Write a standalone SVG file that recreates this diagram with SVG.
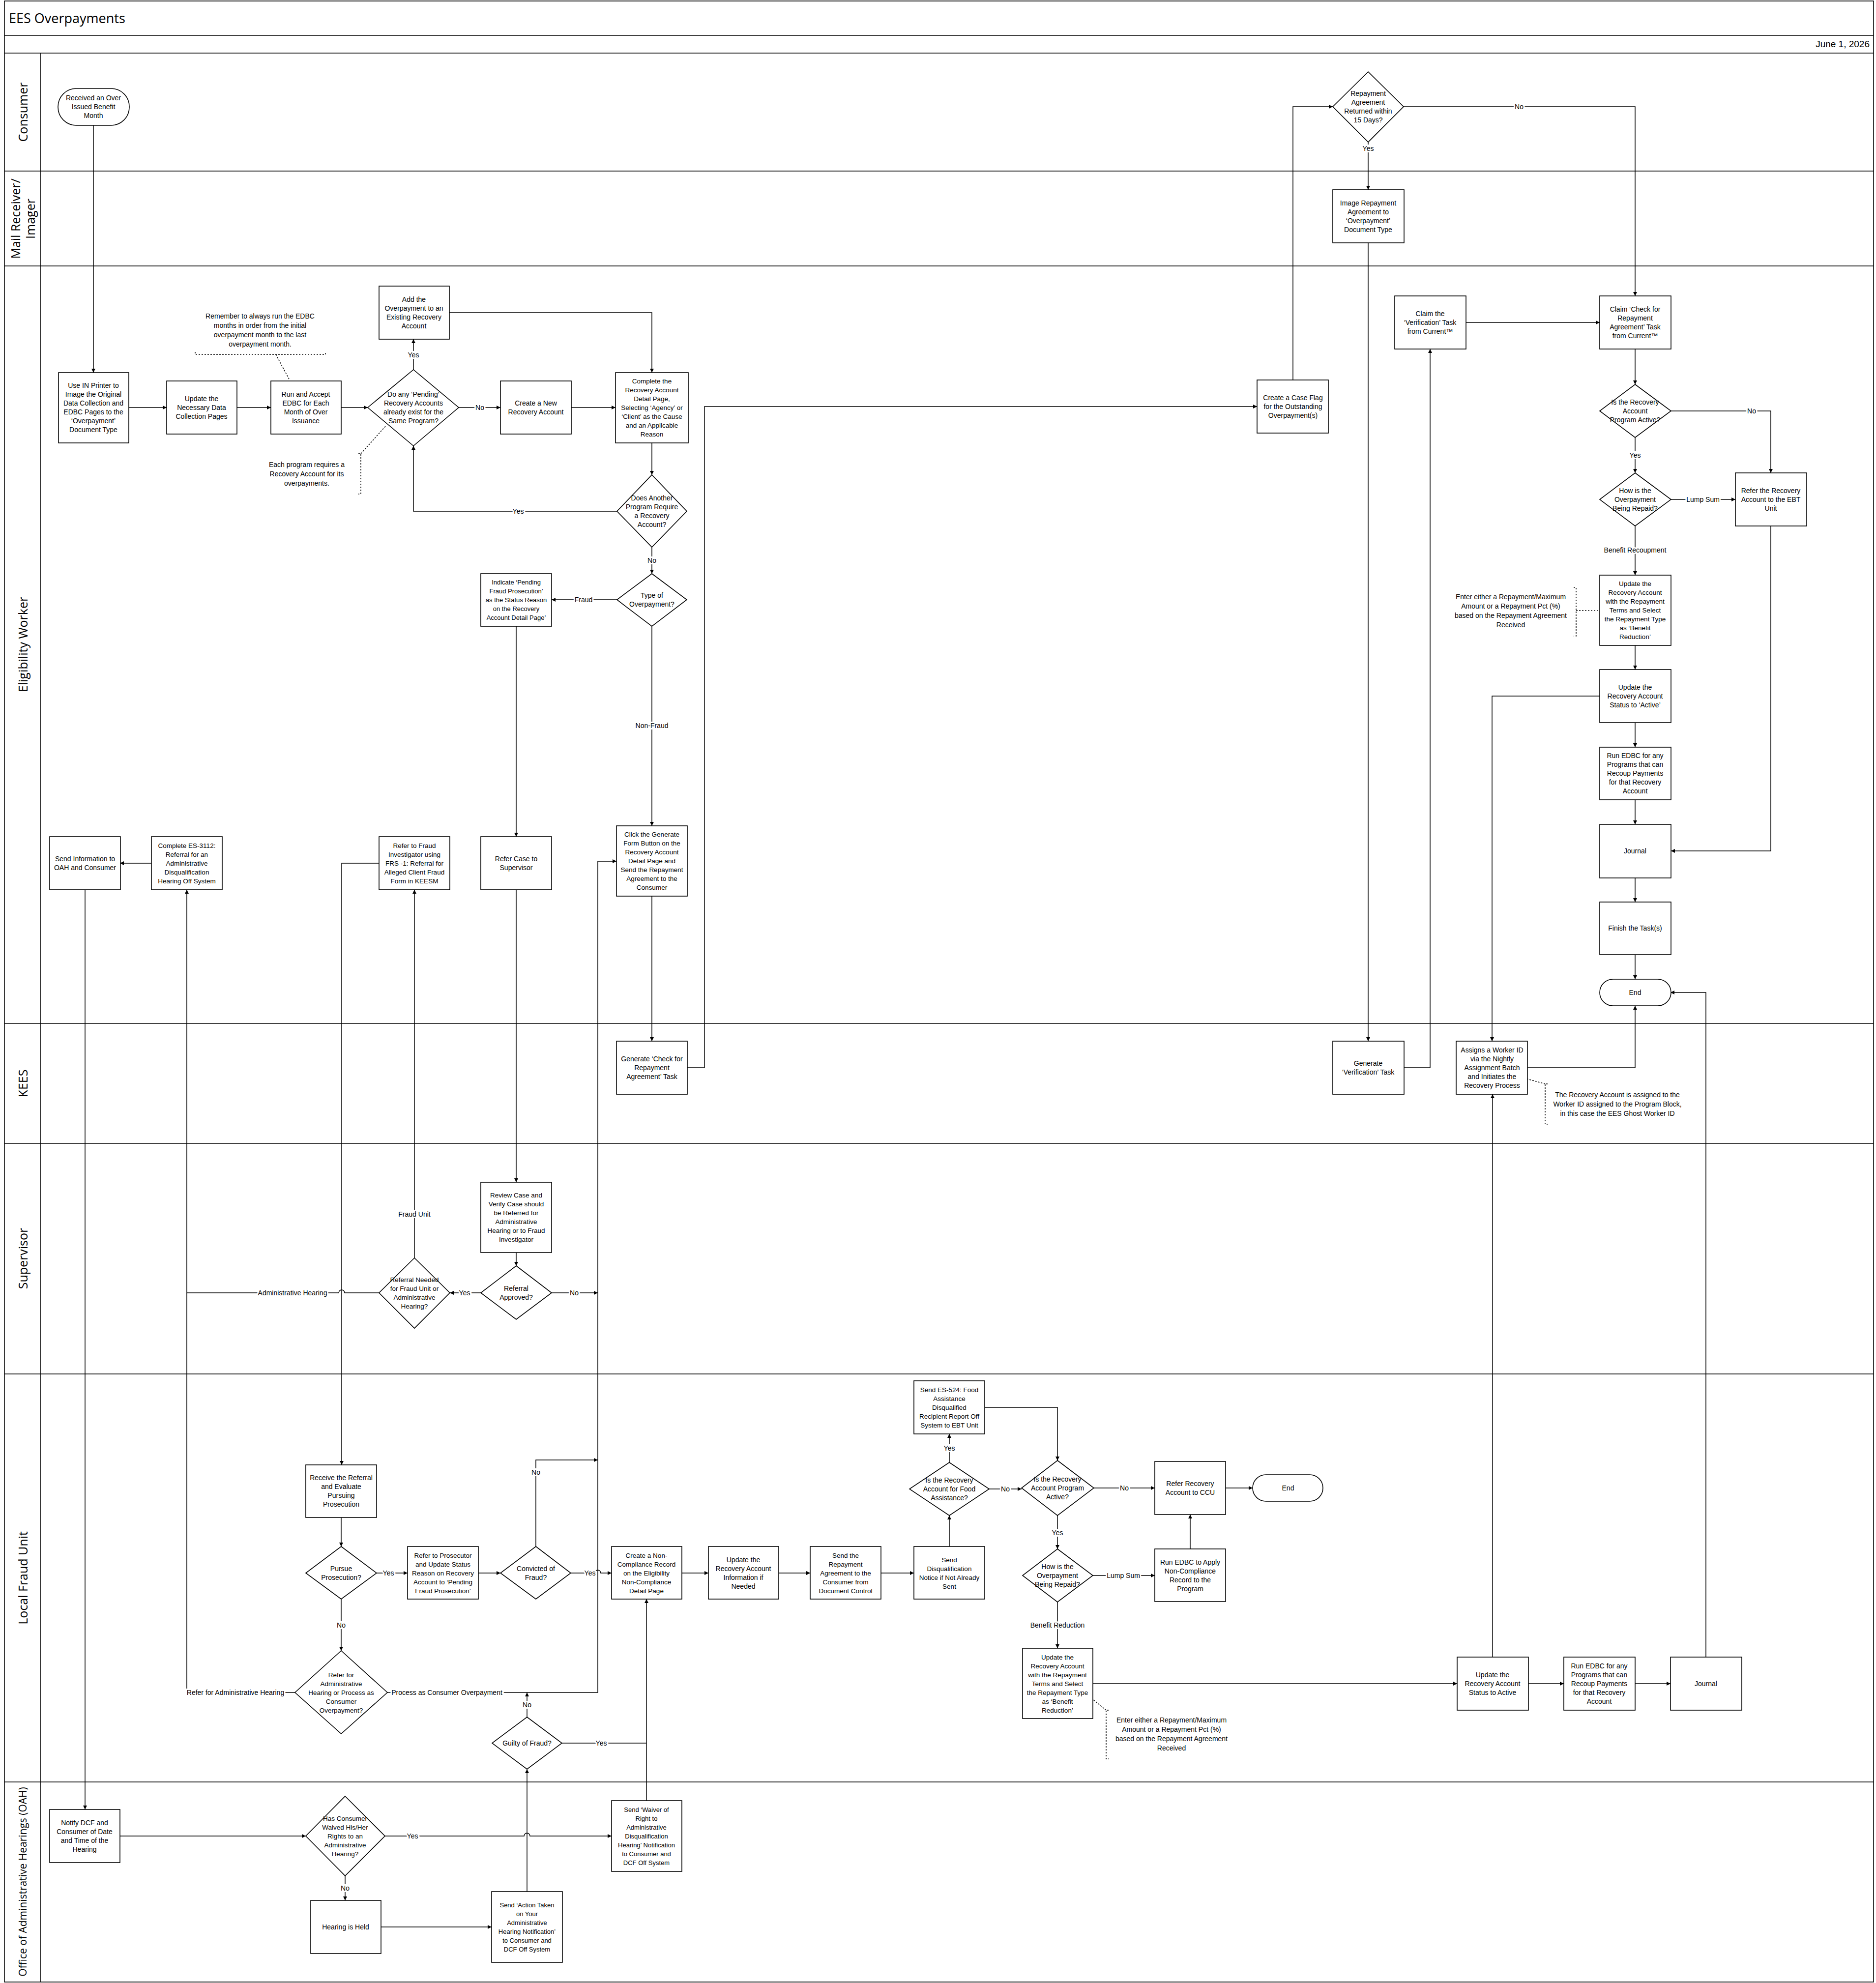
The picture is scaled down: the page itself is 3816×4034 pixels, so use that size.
<svg xmlns="http://www.w3.org/2000/svg" width="3816" height="4034" viewBox="0 0 3816 4034">
<style>
.b{fill:#fff;stroke:#000;stroke-width:1.6}
.f{fill:none;stroke:#000;stroke-width:1.6}
.t{font-family:"Liberation Sans",Arial,sans-serif;font-size:14px;text-anchor:middle;fill:#000}
.l{font-family:"Liberation Sans",Arial,sans-serif;font-size:14px;text-anchor:middle;fill:#000;paint-order:stroke;stroke:#fff;stroke-width:6px}
.lane{font-family:"Open Sans","Liberation Sans",sans-serif;font-size:25px;text-anchor:middle;fill:#000}
.c{fill:none;stroke:#000;stroke-width:1.5;marker-end:url(#a)}
.p{fill:none;stroke:#000;stroke-width:1.5}
.n{fill:none;stroke:#000;stroke-width:1.5;stroke-dasharray:3 3}
</style>
<defs>
<marker id="a" viewBox="0 0 10 10" refX="10" refY="5" markerWidth="8" markerHeight="8" markerUnits="userSpaceOnUse" orient="auto"><path d="M0,0 L10,5 L0,10 z" fill="#000"/></marker>
</defs>
<rect x="0" y="0" width="3816" height="4034" fill="#fff"/>
<g id="frame">
<rect x="9" y="2" width="3802" height="4030" class="f"/>
<line x1="9" y1="72" x2="3811" y2="72" class="f"/>
<line x1="9" y1="108" x2="3811" y2="108" class="f"/>
<line x1="9" y1="348" x2="3811" y2="348" class="f"/>
<line x1="9" y1="541" x2="3811" y2="541" class="f"/>
<line x1="9" y1="2082" x2="3811" y2="2082" class="f"/>
<line x1="9" y1="2326" x2="3811" y2="2326" class="f"/>
<line x1="9" y1="2795" x2="3811" y2="2795" class="f"/>
<line x1="9" y1="3625" x2="3811" y2="3625" class="f"/>
<line x1="82" y1="108" x2="82" y2="4032" class="f"/>
<text x="18" y="47" font-family="'Open Sans','Liberation Sans',sans-serif" font-size="27">EES Overpayments</text>
<text x="3803" y="96" font-family="'Liberation Sans',sans-serif" font-size="19" text-anchor="end">June 1, 2026</text>
<text class="lane" transform="translate(56,228) rotate(-90)">Consumer</text>
<text class="lane" transform="translate(47,445) rotate(-90)"><tspan x="0" dy="-6">Mail Receiver/</tspan><tspan x="0" dy="30">Imager</tspan></text>
<text class="lane" transform="translate(56,1311) rotate(-90)">Eligibility Worker</text>
<text class="lane" transform="translate(56,2204) rotate(-90)">KEES</text>
<text class="lane" transform="translate(56,2560) rotate(-90)">Supervisor</text>
<text class="lane" transform="translate(56,3210) rotate(-90)">Local Fraud Unit</text>
<text class="lane" style="font-size:21px" transform="translate(54,3828) rotate(-90)">Office of Administrative Hearings (OAH)</text>
</g>
<g id="connectors">
<path class="c" d="M190,255 V758"/>
<path class="c" d="M262,829 H339"/>
<path class="c" d="M482,829 H551"/>
<path class="c" d="M694,829 H748"/>
<path class="c" d="M841,752 V690"/>
<path class="c" d="M933,829 H1018"/>
<path class="c" d="M914,636 H1326 V758"/>
<path class="c" d="M1162,829 H1252"/>
<path class="c" d="M1326,901 V966"/>
<path class="c" d="M1255,1040 H841 V907"/>
<path class="c" d="M1326,1113 V1167"/>
<path class="c" d="M1255,1220 H1122"/>
<path class="c" d="M1326,1274 V1680"/>
<path class="c" d="M1050,1274 V1702"/>
<path class="c" d="M1050,1810 V2405"/>
<path class="c" d="M1326,1823 V2118"/>
<path class="c" d="M1398,2172 H1433 V827 H2557"/>
<path class="c" d="M2630,773 V217 H2711"/>
<path class="c" d="M2783,289 V386"/>
<path class="c" d="M2855,217 H3326 V602"/>
<path class="c" d="M2783,494 V2118"/>
<path class="c" d="M2856,2172 H2909 V710"/>
<path class="c" d="M2982,656 H3254"/>
<path class="c" d="M3326,710 V782"/>
<path class="c" d="M3326,890 V962"/>
<path class="c" d="M3399,836 H3602 V962"/>
<path class="c" d="M3399,1016 H3530"/>
<path class="c" d="M3326,1070 V1170"/>
<path class="c" d="M3326,1313 V1362"/>
<path class="c" d="M3326,1470 V1520"/>
<path class="c" d="M3326,1627 V1677"/>
<path class="c" d="M3326,1786 V1835"/>
<path class="c" d="M3326,1942 V1992"/>
<path class="c" d="M3602,1070 V1731 H3399"/>
<path class="c" d="M3254,1416 H3035 V2118"/>
<path class="c" d="M3107,2172 H3326 V2046"/>
<path class="c" d="M1050,2548 V2575"/>
<path class="c" d="M978,2630 H915"/>
<path class="c" d="M1122,2630 H1216"/>
<path class="c" d="M843,2559 V1810"/>
<path class="c" d="M771,2630 H701 a6,6 0 0 0 -12,0 H380 V1810"/>
<path class="c" d="M308,1756 H244"/>
<path class="c" d="M173,1810 V3681"/>
<path class="c" d="M771,1756 H695 V2980"/>
<path class="c" d="M694,3087 V3146"/>
<path class="c" d="M766,3200 H829"/>
<path class="c" d="M973,3200 H1018"/>
<path class="c" d="M1090,3146 V2970 H1216"/>
<path class="c" d="M1161,3200 H1210 a6,6 0 0 1 12,0 H1244"/>
<path class="c" d="M788,3443 H1216 V1752 H1254"/>
<path class="c" d="M694,3253 V3358"/>
<path class="p" d="M600,3443 H380 V2630"/>
<path class="c" d="M1072,3493 V3443"/>
<path class="p" d="M1143,3546 H1315"/>
<path class="c" d="M1315,3663 V3253"/>
<path class="c" d="M1387,3200 H1441"/>
<path class="c" d="M1584,3200 H1648"/>
<path class="c" d="M1792,3200 H1859"/>
<path class="c" d="M1931,3146 V3083"/>
<path class="c" d="M1931,2975 V2917"/>
<path class="c" d="M2012,3029 H2078"/>
<path class="c" d="M2003,2863 H2151 V2971"/>
<path class="c" d="M2225,3027 H2349"/>
<path class="c" d="M2493,3027 H2548"/>
<path class="c" d="M2151,3083 V3151"/>
<path class="c" d="M2223,3205 H2349"/>
<path class="c" d="M2151,3259 V3353"/>
<path class="c" d="M2421,3151 V3081"/>
<path class="c" d="M2223,3425 H2964"/>
<path class="c" d="M3109,3425 H3181"/>
<path class="c" d="M3326,3425 H3398"/>
<path class="c" d="M3036,3371 V2226"/>
<path class="c" d="M3470,3371 V2019 H3398"/>
<path class="c" d="M244,3735 H622"/>
<path class="c" d="M783,3735 H1066 a6,6 0 0 1 12,0 H1244"/>
<path class="c" d="M702,3816 V3866"/>
<path class="c" d="M775,3920 H1000"/>
<path class="c" d="M1072,3848 V3599"/>
<text class="l" x="841" y="727">Yes</text>
<text class="l" x="976" y="834">No</text>
<text class="l" x="1054" y="1045">Yes</text>
<text class="l" x="1326" y="1145">No</text>
<text class="l" x="1187" y="1225">Fraud</text>
<text class="l" x="1326" y="1481">Non-Fraud</text>
<text class="l" x="2783" y="307">Yes</text>
<text class="l" x="3090" y="222">No</text>
<text class="l" x="3563" y="841">No</text>
<text class="l" x="3326" y="931">Yes</text>
<text class="l" x="3464" y="1021">Lump Sum</text>
<text class="l" x="3326" y="1124">Benefit Recoupment</text>
<text class="l" x="945" y="2635">Yes</text>
<text class="l" x="1168" y="2635">No</text>
<text class="l" x="843" y="2475">Fraud Unit</text>
<text class="l" x="595" y="2635">Administrative Hearing</text>
<text class="l" x="790" y="3205">Yes</text>
<text class="l" x="1090" y="3000">No</text>
<text class="l" x="1200" y="3205">Yes</text>
<text class="l" x="909" y="3448">Process as Consumer Overpayment</text>
<text class="l" x="694" y="3311">No</text>
<text class="l" x="479" y="3448">Refer for Administrative Hearing</text>
<text class="l" x="1072" y="3473">No</text>
<text class="l" x="1223" y="3551">Yes</text>
<text class="l" x="1931" y="2951">Yes</text>
<text class="l" x="2045" y="3034">No</text>
<text class="l" x="2287" y="3032">No</text>
<text class="l" x="2151" y="3123">Yes</text>
<text class="l" x="2285" y="3210">Lump Sum</text>
<text class="l" x="2151" y="3311">Benefit Reduction</text>
<text class="l" x="839" y="3740">Yes</text>
<text class="l" x="702" y="3846">No</text>
</g>
<g id="notes">
<path class="n" d="M397,716 V721 H662 V716 M561,721 L589,773"/>
<text class="t"><tspan x="529" y="648">Remember to always run the EDBC</tspan><tspan x="529" dy="19">months in order from the initial</tspan><tspan x="529" dy="19">overpayment month to the last</tspan><tspan x="529" dy="19">overpayment month.</tspan></text>
<path class="n" d="M729,923 H734 V1005 H729 M734,923 L786,865"/>
<text class="t"><tspan x="624" y="950">Each program requires a</tspan><tspan x="624" dy="19">Recovery Account for its</tspan><tspan x="624" dy="19">overpayments.</tspan></text>
<path class="n" d="M3201,1195 H3206 V1294 H3201 M3206,1242 H3254"/>
<text class="t"><tspan x="3073" y="1219">Enter either a Repayment/Maximum</tspan><tspan x="3073" dy="19">Amount or a Repayment Pct (%)</tspan><tspan x="3073" dy="19">based on the Repayment Agreement</tspan><tspan x="3073" dy="19">Received</tspan></text>
<path class="n" d="M3148,2205 H3143 V2287 H3148 M3143,2205 L3107,2195"/>
<text class="t"><tspan x="3290" y="2232">The Recovery Account is assigned to the</tspan><tspan x="3290" dy="19">Worker ID assigned to the Program Block,</tspan><tspan x="3290" dy="19">in this case the EES Ghost Worker ID</tspan></text>
<path class="n" d="M2255,3479 H2250 V3578 H2255 M2250,3479 L2223,3457"/>
<text class="t"><tspan x="2383" y="3504">Enter either a Repayment/Maximum</tspan><tspan x="2383" dy="19">Amount or a Repayment Pct (%)</tspan><tspan x="2383" dy="19">based on the Repayment Agreement</tspan><tspan x="2383" dy="19">Received</tspan></text>
</g>
<g id="n1"><rect class="b" x="118" y="180" width="145" height="75" rx="37"/><text class="t"><tspan x="190" y="204">Received an Over</tspan><tspan x="190" dy="18">Issued Benefit</tspan><tspan x="190" dy="18">Month</tspan></text></g>
<g id="n2"><rect class="b" x="119" y="758" width="143" height="143"/><text class="t"><tspan x="190" y="789">Use IN Printer to</tspan><tspan x="190" dy="18">Image the Original</tspan><tspan x="190" dy="18">Data Collection and</tspan><tspan x="190" dy="18">EDBC Pages to the</tspan><tspan x="190" dy="18">‘Overpayment’</tspan><tspan x="190" dy="18">Document Type</tspan></text></g>
<g id="n3"><rect class="b" x="339" y="775" width="143" height="108"/><text class="t"><tspan x="410" y="816">Update the</tspan><tspan x="410" dy="18">Necessary Data</tspan><tspan x="410" dy="18">Collection Pages</tspan></text></g>
<g id="n4"><rect class="b" x="551" y="775" width="143" height="108"/><text class="t"><tspan x="622" y="807">Run and Accept</tspan><tspan x="622" dy="18">EDBC for Each</tspan><tspan x="622" dy="18">Month of Over</tspan><tspan x="622" dy="18">Issuance</tspan></text></g>
<g id="n5"><polygon class="b" points="841,752 933,829 841,907 748,829"/><text class="t"><tspan x="841" y="807">Do any ‘Pending’</tspan><tspan x="841" dy="18">Recovery Accounts</tspan><tspan x="841" dy="18">already exist for the</tspan><tspan x="841" dy="18">Same Program?</tspan></text></g>
<g id="n6"><rect class="b" x="771" y="582" width="143" height="108"/><text class="t"><tspan x="842" y="614">Add the</tspan><tspan x="842" dy="18">Overpayment to an</tspan><tspan x="842" dy="18">Existing Recovery</tspan><tspan x="842" dy="18">Account</tspan></text></g>
<g id="n7"><rect class="b" x="1018" y="775" width="144" height="108"/><text class="t"><tspan x="1090" y="825">Create a New</tspan><tspan x="1090" dy="18">Recovery Account</tspan></text></g>
<g id="n8"><rect class="b" x="1252" y="758" width="148" height="143"/><text class="t" style="font-size:13.5px"><tspan x="1326" y="780">Complete the</tspan><tspan x="1326" dy="18">Recovery Account</tspan><tspan x="1326" dy="18">Detail Page,</tspan><tspan x="1326" dy="18">Selecting ‘Agency’ or</tspan><tspan x="1326" dy="18">‘Client’ as the Cause</tspan><tspan x="1326" dy="18">and an Applicable</tspan><tspan x="1326" dy="18">Reason</tspan></text></g>
<g id="n9"><polygon class="b" points="1326,966 1397,1040 1326,1113 1255,1040"/><text class="t"><tspan x="1326" y="1018">Does Another</tspan><tspan x="1326" dy="18">Program Require</tspan><tspan x="1326" dy="18">a Recovery</tspan><tspan x="1326" dy="18">Account?</tspan></text></g>
<g id="n10"><polygon class="b" points="1326,1167 1397,1220 1326,1274 1255,1220"/><text class="t"><tspan x="1326" y="1216">Type of</tspan><tspan x="1326" dy="18">Overpayment?</tspan></text></g>
<g id="n11"><rect class="b" x="978" y="1167" width="144" height="107"/><text class="t" style="font-size:13px"><tspan x="1050" y="1189">Indicate ‘Pending</tspan><tspan x="1050" dy="18">Fraud Prosecution’</tspan><tspan x="1050" dy="18">as the Status Reason</tspan><tspan x="1050" dy="18">on the Recovery</tspan><tspan x="1050" dy="18">Account Detail Page’</tspan></text></g>
<g id="n12"><rect class="b" x="978" y="1702" width="144" height="108"/><text class="t"><tspan x="1050" y="1752">Refer Case to</tspan><tspan x="1050" dy="18">Supervisor</tspan></text></g>
<g id="n13"><rect class="b" x="1254" y="1680" width="144" height="143"/><text class="t" style="font-size:13.5px"><tspan x="1326" y="1702">Click the Generate</tspan><tspan x="1326" dy="18">Form Button on the</tspan><tspan x="1326" dy="18">Recovery Account</tspan><tspan x="1326" dy="18">Detail Page and</tspan><tspan x="1326" dy="18">Send the Repayment</tspan><tspan x="1326" dy="18">Agreement to the</tspan><tspan x="1326" dy="18">Consumer</tspan></text></g>
<g id="n14"><rect class="b" x="771" y="1702" width="144" height="108"/><text class="t" style="font-size:13.5px"><tspan x="843" y="1725">Refer to Fraud</tspan><tspan x="843" dy="18">Investigator using</tspan><tspan x="843" dy="18">FRS -1: Referral for</tspan><tspan x="843" dy="18">Alleged Client Fraud</tspan><tspan x="843" dy="18">Form in KEESM</tspan></text></g>
<g id="n15"><rect class="b" x="308" y="1702" width="144" height="108"/><text class="t" style="font-size:13.5px"><tspan x="380" y="1725">Complete ES-3112:</tspan><tspan x="380" dy="18">Referral for an</tspan><tspan x="380" dy="18">Administrative</tspan><tspan x="380" dy="18">Disqualification</tspan><tspan x="380" dy="18">Hearing Off System</tspan></text></g>
<g id="n16"><rect class="b" x="101" y="1702" width="144" height="108"/><text class="t"><tspan x="173" y="1752">Send Information to</tspan><tspan x="173" dy="18">OAH and Consumer</tspan></text></g>
<g id="n17"><rect class="b" x="2557" y="773" width="145" height="108"/><text class="t"><tspan x="2630" y="814">Create a Case Flag</tspan><tspan x="2630" dy="18">for the Outstanding</tspan><tspan x="2630" dy="18">Overpayment(s)</tspan></text></g>
<g id="n18"><polygon class="b" points="2783,146 2855,217 2783,289 2711,217"/><text class="t"><tspan x="2783" y="195">Repayment</tspan><tspan x="2783" dy="18">Agreement</tspan><tspan x="2783" dy="18">Returned within</tspan><tspan x="2783" dy="18">15 Days?</tspan></text></g>
<g id="n19"><rect class="b" x="2711" y="386" width="145" height="108"/><text class="t"><tspan x="2783" y="418">Image Repayment</tspan><tspan x="2783" dy="18">Agreement to</tspan><tspan x="2783" dy="18">‘Overpayment’</tspan><tspan x="2783" dy="18">Document Type</tspan></text></g>
<g id="n20"><rect class="b" x="2837" y="602" width="145" height="108"/><text class="t"><tspan x="2909" y="643">Claim the</tspan><tspan x="2909" dy="18">‘Verification’ Task</tspan><tspan x="2909" dy="18">from Current™</tspan></text></g>
<g id="n21"><rect class="b" x="3254" y="602" width="145" height="108"/><text class="t"><tspan x="3326" y="634">Claim ‘Check for</tspan><tspan x="3326" dy="18">Repayment</tspan><tspan x="3326" dy="18">Agreement’ Task</tspan><tspan x="3326" dy="18">from Current™</tspan></text></g>
<g id="n22"><polygon class="b" points="3326,782 3399,836 3326,890 3254,836"/><text class="t"><tspan x="3326" y="823">Is the Recovery</tspan><tspan x="3326" dy="18">Account</tspan><tspan x="3326" dy="18">Program Active?</tspan></text></g>
<g id="n23"><polygon class="b" points="3326,962 3399,1016 3326,1070 3254,1016"/><text class="t"><tspan x="3326" y="1003">How is the</tspan><tspan x="3326" dy="18">Overpayment</tspan><tspan x="3326" dy="18">Being Repaid?</tspan></text></g>
<g id="n24"><rect class="b" x="3530" y="962" width="145" height="108"/><text class="t"><tspan x="3602" y="1003">Refer the Recovery</tspan><tspan x="3602" dy="18">Account to the EBT</tspan><tspan x="3602" dy="18">Unit</tspan></text></g>
<g id="n25"><rect class="b" x="3254" y="1170" width="145" height="143"/><text class="t" style="font-size:13.5px"><tspan x="3326" y="1192">Update the</tspan><tspan x="3326" dy="18">Recovery Account</tspan><tspan x="3326" dy="18">with the Repayment</tspan><tspan x="3326" dy="18">Terms and Select</tspan><tspan x="3326" dy="18">the Repayment Type</tspan><tspan x="3326" dy="18">as ‘Benefit</tspan><tspan x="3326" dy="18">Reduction’</tspan></text></g>
<g id="n26"><rect class="b" x="3254" y="1362" width="145" height="108"/><text class="t"><tspan x="3326" y="1403">Update the</tspan><tspan x="3326" dy="18">Recovery Account</tspan><tspan x="3326" dy="18">Status to ‘Active’</tspan></text></g>
<g id="n27"><rect class="b" x="3254" y="1520" width="145" height="107"/><text class="t"><tspan x="3326" y="1542">Run EDBC for any</tspan><tspan x="3326" dy="18">Programs that can</tspan><tspan x="3326" dy="18">Recoup Payments</tspan><tspan x="3326" dy="18">for that Recovery</tspan><tspan x="3326" dy="18">Account</tspan></text></g>
<g id="n28"><rect class="b" x="3254" y="1677" width="145" height="109"/><text class="t" x="3326" y="1736">Journal</text></g>
<g id="n29"><rect class="b" x="3254" y="1835" width="145" height="107"/><text class="t" x="3326" y="1893">Finish the Task(s)</text></g>
<g id="n30"><rect class="b" x="3254" y="1992" width="145" height="54" rx="27"/><text class="t" x="3326" y="2024">End</text></g>
<g id="n31"><rect class="b" x="1254" y="2118" width="144" height="108"/><text class="t"><tspan x="1326" y="2159">Generate ‘Check for</tspan><tspan x="1326" dy="18">Repayment</tspan><tspan x="1326" dy="18">Agreement’ Task</tspan></text></g>
<g id="n32"><rect class="b" x="2711" y="2118" width="145" height="108"/><text class="t"><tspan x="2783" y="2168">Generate</tspan><tspan x="2783" dy="18">‘Verification’ Task</tspan></text></g>
<g id="n33"><rect class="b" x="2962" y="2118" width="145" height="108"/><text class="t"><tspan x="3035" y="2141">Assigns a Worker ID</tspan><tspan x="3035" dy="18">via the Nightly</tspan><tspan x="3035" dy="18">Assignment Batch</tspan><tspan x="3035" dy="18">and Initiates the</tspan><tspan x="3035" dy="18">Recovery Process</tspan></text></g>
<g id="n34"><rect class="b" x="978" y="2405" width="144" height="143"/><text class="t" style="font-size:13.5px"><tspan x="1050" y="2436">Review Case and</tspan><tspan x="1050" dy="18">Verify Case should</tspan><tspan x="1050" dy="18">be Referred for</tspan><tspan x="1050" dy="18">Administrative</tspan><tspan x="1050" dy="18">Hearing or to  Fraud</tspan><tspan x="1050" dy="18">Investigator</tspan></text></g>
<g id="n35"><polygon class="b" points="1050,2575 1122,2630 1050,2684 978,2630"/><text class="t"><tspan x="1050" y="2626">Referral</tspan><tspan x="1050" dy="18">Approved?</tspan></text></g>
<g id="n36"><polygon class="b" points="843,2559 915,2630 843,2702 771,2630"/><text class="t" style="font-size:13.5px"><tspan x="843" y="2608">Referral Needed</tspan><tspan x="843" dy="18">for Fraud Unit or</tspan><tspan x="843" dy="18">Administrative</tspan><tspan x="843" dy="18">Hearing?</tspan></text></g>
<g id="n37"><rect class="b" x="622" y="2980" width="144" height="107"/><text class="t"><tspan x="694" y="3011">Receive the Referral</tspan><tspan x="694" dy="18">and Evaluate</tspan><tspan x="694" dy="18">Pursuing</tspan><tspan x="694" dy="18">Prosecution</tspan></text></g>
<g id="n38"><polygon class="b" points="694,3146 766,3200 694,3253 622,3200"/><text class="t"><tspan x="694" y="3196">Pursue</tspan><tspan x="694" dy="18">Prosecution?</tspan></text></g>
<g id="n39"><rect class="b" x="829" y="3146" width="144" height="107"/><text class="t" style="font-size:13.5px"><tspan x="901" y="3169">Refer to Prosecutor</tspan><tspan x="901" dy="18">and Update Status</tspan><tspan x="901" dy="18">Reason on Recovery</tspan><tspan x="901" dy="18">Account to ‘Pending</tspan><tspan x="901" dy="18">Fraud Prosecution’</tspan></text></g>
<g id="n40"><polygon class="b" points="1090,3146 1161,3200 1090,3253 1018,3200"/><text class="t"><tspan x="1090" y="3196">Convicted of</tspan><tspan x="1090" dy="18">Fraud?</tspan></text></g>
<g id="n41"><rect class="b" x="1244" y="3146" width="143" height="107"/><text class="t" style="font-size:13.5px"><tspan x="1315" y="3169">Create a Non-</tspan><tspan x="1315" dy="18">Compliance Record</tspan><tspan x="1315" dy="18">on the Eligibility</tspan><tspan x="1315" dy="18">Non-Compliance</tspan><tspan x="1315" dy="18">Detail Page</tspan></text></g>
<g id="n42"><rect class="b" x="1441" y="3146" width="143" height="107"/><text class="t"><tspan x="1512" y="3178">Update the</tspan><tspan x="1512" dy="18">Recovery Account</tspan><tspan x="1512" dy="18">Information if</tspan><tspan x="1512" dy="18">Needed</tspan></text></g>
<g id="n43"><rect class="b" x="1648" y="3146" width="144" height="107"/><text class="t" style="font-size:13.5px"><tspan x="1720" y="3169">Send the</tspan><tspan x="1720" dy="18">Repayment</tspan><tspan x="1720" dy="18">Agreement to the</tspan><tspan x="1720" dy="18">Consumer from</tspan><tspan x="1720" dy="18">Document Control</tspan></text></g>
<g id="n44"><rect class="b" x="1859" y="3146" width="144" height="107"/><text class="t" style="font-size:13.5px"><tspan x="1931" y="3178">Send</tspan><tspan x="1931" dy="18">Disqualification</tspan><tspan x="1931" dy="18">Notice if Not Already</tspan><tspan x="1931" dy="18">Sent</tspan></text></g>
<g id="n45"><polygon class="b" points="1931,2975 2012,3029 1931,3083 1850,3029"/><text class="t"><tspan x="1931" y="3016">Is the Recovery</tspan><tspan x="1931" dy="18">Account for Food</tspan><tspan x="1931" dy="18">Assistance?</tspan></text></g>
<g id="n46"><rect class="b" x="1859" y="2809" width="144" height="108"/><text class="t" style="font-size:13.5px"><tspan x="1931" y="2832">Send ES-524: Food</tspan><tspan x="1931" dy="18">Assistance</tspan><tspan x="1931" dy="18">Disqualified</tspan><tspan x="1931" dy="18">Recipient Report Off</tspan><tspan x="1931" dy="18">System to EBT Unit</tspan></text></g>
<g id="n47"><polygon class="b" points="2151,2971 2225,3027 2151,3083 2078,3027"/><text class="t"><tspan x="2151" y="3014">Is the Recovery</tspan><tspan x="2151" dy="18">Account Program</tspan><tspan x="2151" dy="18">Active?</tspan></text></g>
<g id="n48"><rect class="b" x="2349" y="2973" width="144" height="108"/><text class="t"><tspan x="2421" y="3023">Refer Recovery</tspan><tspan x="2421" dy="18">Account to CCU</tspan></text></g>
<g id="n49"><rect class="b" x="2548" y="3000" width="143" height="54" rx="27"/><text class="t" x="2620" y="3032">End</text></g>
<g id="n50"><polygon class="b" points="2151,3151 2223,3205 2151,3259 2080,3205"/><text class="t"><tspan x="2151" y="3192">How is the</tspan><tspan x="2151" dy="18">Overpayment</tspan><tspan x="2151" dy="18">Being Repaid?</tspan></text></g>
<g id="n51"><rect class="b" x="2349" y="3151" width="144" height="107"/><text class="t"><tspan x="2421" y="3183">Run EDBC to Apply</tspan><tspan x="2421" dy="18">Non-Compliance</tspan><tspan x="2421" dy="18">Record to the</tspan><tspan x="2421" dy="18">Program</tspan></text></g>
<g id="n52"><rect class="b" x="2080" y="3353" width="143" height="143"/><text class="t" style="font-size:13.5px"><tspan x="2151" y="3376">Update the</tspan><tspan x="2151" dy="18">Recovery Account</tspan><tspan x="2151" dy="18">with the Repayment</tspan><tspan x="2151" dy="18">Terms and Select</tspan><tspan x="2151" dy="18">the Repayment Type</tspan><tspan x="2151" dy="18">as ‘Benefit</tspan><tspan x="2151" dy="18">Reduction’</tspan></text></g>
<g id="n53"><rect class="b" x="2964" y="3371" width="145" height="108"/><text class="t"><tspan x="3036" y="3412">Update the</tspan><tspan x="3036" dy="18">Recovery Account</tspan><tspan x="3036" dy="18">Status to Active</tspan></text></g>
<g id="n54"><rect class="b" x="3181" y="3371" width="145" height="108"/><text class="t"><tspan x="3253" y="3394">Run EDBC for any</tspan><tspan x="3253" dy="18">Programs that can</tspan><tspan x="3253" dy="18">Recoup Payments</tspan><tspan x="3253" dy="18">for that Recovery</tspan><tspan x="3253" dy="18">Account</tspan></text></g>
<g id="n55"><rect class="b" x="3398" y="3371" width="145" height="108"/><text class="t" x="3470" y="3430">Journal</text></g>
<g id="n56"><polygon class="b" points="694,3358 788,3443 694,3527 600,3443"/><text class="t" style="font-size:13.5px"><tspan x="694" y="3412">Refer for</tspan><tspan x="694" dy="18">Administrative</tspan><tspan x="694" dy="18">Hearing or Process as</tspan><tspan x="694" dy="18">Consumer</tspan><tspan x="694" dy="18">Overpayment?</tspan></text></g>
<g id="n57"><polygon class="b" points="1072,3493 1143,3546 1072,3599 1001,3546"/><text class="t" x="1072" y="3551">Guilty of Fraud?</text></g>
<g id="n58"><rect class="b" x="101" y="3681" width="143" height="108"/><text class="t"><tspan x="172" y="3713">Notify DCF and</tspan><tspan x="172" dy="18">Consumer of Date</tspan><tspan x="172" dy="18">and Time of the</tspan><tspan x="172" dy="18">Hearing</tspan></text></g>
<g id="n59"><polygon class="b" points="702,3654 783,3735 702,3816 622,3735"/><text class="t" style="font-size:13.5px"><tspan x="702" y="3704">Has Consumer</tspan><tspan x="702" dy="18">Waived His/Her</tspan><tspan x="702" dy="18">Rights to an</tspan><tspan x="702" dy="18">Administrative</tspan><tspan x="702" dy="18">Hearing?</tspan></text></g>
<g id="n60"><rect class="b" x="1244" y="3663" width="143" height="144"/><text class="t" style="font-size:13px"><tspan x="1315" y="3686">Send ‘Waiver of</tspan><tspan x="1315" dy="18">Right to</tspan><tspan x="1315" dy="18">Administrative</tspan><tspan x="1315" dy="18">Disqualification</tspan><tspan x="1315" dy="18">Hearing’ Notification</tspan><tspan x="1315" dy="18">to Consumer and</tspan><tspan x="1315" dy="18">DCF Off System</tspan></text></g>
<g id="n61"><rect class="b" x="632" y="3866" width="143" height="108"/><text class="t" x="703" y="3925">Hearing is Held</text></g>
<g id="n62"><rect class="b" x="1000" y="3848" width="144" height="144"/><text class="t" style="font-size:13px"><tspan x="1072" y="3880">Send ‘Action Taken</tspan><tspan x="1072" dy="18">on Your</tspan><tspan x="1072" dy="18">Administrative</tspan><tspan x="1072" dy="18">Hearing Notification’</tspan><tspan x="1072" dy="18">to Consumer and</tspan><tspan x="1072" dy="18">DCF Off System</tspan></text></g>
</svg>
